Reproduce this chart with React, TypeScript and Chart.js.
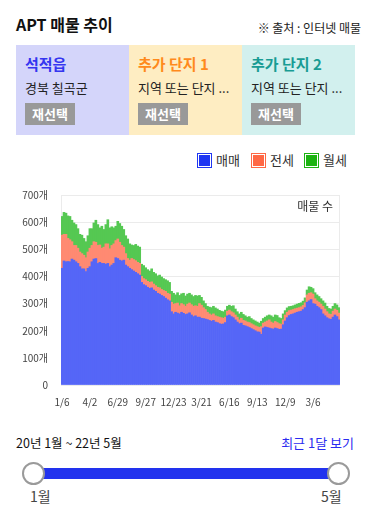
import React, { useEffect, useRef } from "react";
import { Chart, registerables } from "chart.js";

Chart.register(...registerables);

const FONT = "'Noto Sans CJK KR', 'Noto Sans', sans-serif";

// Category labels (M/D), ~6-day steps from 2020-01-06 to 2022-05-26
const DATES = [
  "1/6","1/12","1/18","1/25","1/31","2/6","2/12","2/19","2/25","3/2","3/8","3/14","3/21","3/27",
  "4/2","4/8","4/14","4/21","4/27","5/3","5/9","5/16","5/22","5/28","6/3","6/10","6/16","6/22",
  "6/29","7/5","7/12","7/18","7/25","7/31","8/6","8/13","8/19","8/26","9/1","9/8","9/14","9/21",
  "9/27","10/3","10/9","10/16","10/22","10/28","11/3","11/10","11/16","11/22","11/28","12/5","12/11","12/17",
  "12/23","12/29","1/4","1/11","1/17","1/23","1/29","2/5","2/11","2/17","2/23","3/2","3/8","3/14",
  "3/21","3/27","4/2","4/8","4/15","4/21","4/27","5/3","5/10","5/16","5/22","5/28","6/4","6/10",
  "6/16","6/22","6/29","7/5","7/11","7/18","7/24","7/30","8/6","8/12","8/18","8/25","8/31","9/6",
  "9/13","9/19","9/25","10/2","10/8","10/14","10/20","10/27","11/2","11/8","11/14","11/21","11/27","12/3",
  "12/9","12/15","12/21","12/28","1/3","1/9","1/15","1/22","1/28","2/3","2/9","2/16","2/22","2/28",
  "3/6","3/12","3/18","3/25","3/31","4/6","4/12","4/19","4/25","5/1","5/7","5/14","5/20","5/26",
];

// every 14th category carries a visible tick label
const TICK_EVERY = 14;

// 매매
const SALE = [
  430,457,454,455,454,464,460,454,448,436,
  428,428,418,430,436,454,464,466,448,452,
  448,448,445,448,436,442,448,469,466,460,
  457,460,442,436,430,425,420,415,410,405,
  378,370,366,360,356,358,350,345,338,335,
  330,326,320,314,310,270,262,268,265,262,
  268,264,260,262,266,258,252,255,250,250,
  246,245,243,241,238,235,238,232,230,226,
  224,225,230,255,258,252,248,240,232,226,
  228,220,218,215,212,208,204,200,196,195,
  187,210,214,212,210,208,206,210,208,205,
  206,222,236,248,256,260,262,265,268,270,
  272,278,285,305,310,315,300,298,290,285,
  278,262,255,248,244,242,250,258,252,240,
];

// 전세
const JEONSE = [
  122,98,101,85,81,64,54,60,56,54,
  56,50,51,60,68,60,64,60,66,64,
  56,60,75,72,66,72,72,63,72,66,
  57,48,42,30,30,41,42,43,42,43,
  22,22,22,22,22,22,22,21,22,23,
  22,22,25,24,25,35,36,32,37,30,
  32,32,30,36,36,38,38,37,40,50,
  48,40,35,27,24,23,24,23,22,24,
  24,21,20,17,18,18,18,18,18,14,
  18,18,18,17,18,18,18,18,19,17,
  28,18,18,24,30,24,22,24,22,21,
  18,18,22,20,18,16,16,16,15,15,
  16,15,18,27,28,25,35,20,20,20,
  20,28,25,22,18,18,22,22,23,25,
];

// 월세
const MONTHLY = [
  69,81,78,83,86,79,83,77,72,65,
  68,62,59,60,72,62,69,81,77,63,
  81,65,71,89,77,69,59,53,65,69,
  71,65,66,72,60,50,52,60,60,60,
  45,48,44,43,42,48,43,44,42,47,
  46,44,43,46,43,40,40,32,38,38,
  36,42,38,37,36,36,36,38,38,30,
  29,25,22,22,25,27,28,29,28,25,
  24,24,26,18,18,20,26,22,20,22,
  22,22,19,18,22,19,18,18,17,16,
  20,17,18,19,18,23,22,24,26,22,
  21,22,16,16,15,14,14,14,15,16,
  15,16,18,18,24,20,20,22,22,21,
  20,20,22,20,20,20,18,20,20,20,
];

const SERIES_NAMES = ["매매", "전세", "월세"];
const BAR_COLORS = ["#5566f7", "#ff8a72", "#55c852"];
const LEGEND_COLORS = ["#1f36f2", "#ff6845", "#1db412"];
const Y_MAX = 700;
const Y_STEP = 100;

const CARDS = [
  { title: "석적읍", sub: "경북 칠곡군", bg: "#d4d5fa", color: "#3535f0" },
  { title: "추가 단지 1", sub: "지역 또는 단지 ...", bg: "#feedc2", color: "#ff8a1c" },
  { title: "추가 단지 2", sub: "지역 또는 단지 ...", bg: "#d2f0ee", color: "#199c94" },
];

const framePlugin = {
  id: "frame",
  beforeDatasetsDraw(chart: any) {
    const { ctx, chartArea } = chart;
    ctx.save();
    ctx.strokeStyle = "#ebebeb";
    ctx.lineWidth = 1;
    ctx.beginPath();
    ctx.moveTo(Math.round(chartArea.right) - 0.5, chartArea.top);
    ctx.lineTo(Math.round(chartArea.right) - 0.5, chartArea.bottom);
    ctx.stroke();
    ctx.restore();
  },
  afterDraw(chart: any) {
    const { ctx, chartArea } = chart;
    ctx.save();
    ctx.font = `12px ${FONT}`;
    ctx.fillStyle = "#333";
    ctx.textAlign = "right";
    ctx.textBaseline = "top";
    ctx.fillText("매물 수", chartArea.right - 7, chartArea.top + 5);
    ctx.restore();
  },
};

const LEGEND_BOX_X = [197, 251, 304];

export default function App() {
  const ref = useRef<HTMLCanvasElement>(null);

  useEffect(() => {
    if (!ref.current) return;
    const series = [SALE, JEONSE, MONTHLY];
    const chart = new Chart(ref.current, {
      type: "bar",
      data: {
        labels: DATES,
        datasets: series.map((d, k) => ({
          label: SERIES_NAMES[k],
          data: d,
          backgroundColor: BAR_COLORS[k],
          borderWidth: 0,
          barPercentage: 1,
          categoryPercentage: 1,
        })),
      },
      options: {
        responsive: false,
        animation: false,
        layout: { padding: { top: 13, right: 10, left: 0, bottom: 0 } },
        plugins: { legend: { display: false }, tooltip: { enabled: false } },
        scales: {
          x: {
            stacked: true,
            grid: { display: false, drawTicks: false },
            border: { display: false },
            ticks: {
              autoSkip: false,
              maxRotation: 0,
              minRotation: 0,
              padding: 11,
              color: "#444",
              font: { family: FONT, size: 10 },
              callback: (_v: any, i: number) => (i % TICK_EVERY === 0 ? DATES[i] : ""),
            },
            afterFit: (s: any) => {
              s.height = 31;
            },
          },
          y: {
            stacked: true,
            min: 0,
            max: Y_MAX,
            grid: { color: "#ebebeb", drawTicks: false },
            border: { display: true, color: "#ebebeb" },
            ticks: {
              stepSize: Y_STEP,
              padding: 13,
              color: "#444",
              font: { family: FONT, size: 10 },
              callback: (v: any) => (v === 0 ? "0" : `${v}개`),
            },
            afterFit: (s: any) => {
              s.width = 61;
            },
          },
        },
      },
      plugins: [framePlugin],
    });
    return () => chart.destroy();
  }, []);

  return (
    <div
      style={{
        position: "absolute",
        left: 0,
        top: 0,
        width: 383,
        height: 507,
        background: "#fff",
        fontFamily: FONT,
        color: "#111",
      }}
    >
      <div style={{ position: "absolute", left: 16, top: 14, fontSize: 16, fontWeight: 700, lineHeight: "20px" }}>
        APT 매물 추이
      </div>
      <div style={{ position: "absolute", right: 22, top: 20, fontSize: 12, lineHeight: "16px", color: "#222" }}>
        ※ 출처 : 인터넷 매물
      </div>

      <div style={{ position: "absolute", left: 16, top: 45, display: "flex" }}>
        {CARDS.map((c, k) => (
          <div key={k} style={{ position: "relative", width: 113, height: 90, background: c.bg }}>
            <div style={{ position: "absolute", left: 9, top: 10, fontSize: 15, fontWeight: 700, lineHeight: "18px", color: c.color }}>
              {c.title}
            </div>
            <div style={{ position: "absolute", left: 9, top: 35, fontSize: 13, lineHeight: "16px", color: "#222", whiteSpace: "nowrap" }}>
              {c.sub}
            </div>
            <div
              style={{
                position: "absolute",
                left: 9,
                top: 58,
                width: 50,
                height: 22,
                background: "#999",
                color: "#fff",
                fontSize: 13,
                fontWeight: 700,
                lineHeight: "22px",
                textAlign: "center",
              }}
            >
              재선택
            </div>
          </div>
        ))}
      </div>

      {SERIES_NAMES.map((n, k) => (
        <React.Fragment key={k}>
          <div
            style={{
              position: "absolute",
              left: LEGEND_BOX_X[k],
              top: 153,
              width: 15,
              height: 15,
              boxSizing: "border-box",
              border: `1px solid ${LEGEND_COLORS[k]}`,
              boxShadow: "inset 0 0 0 1px #fff",
              background: LEGEND_COLORS[k],
            }}
          />
          <span
            style={{
              position: "absolute",
              left: LEGEND_BOX_X[k] + 19,
              top: 151,
              fontSize: 13,
              lineHeight: "18px",
              color: "#333",
              whiteSpace: "nowrap",
            }}
          >
            {n}
          </span>
        </React.Fragment>
      ))}

      <div style={{ position: "absolute", left: 0, top: 176, width: 350, height: 240 }}>
        <canvas ref={ref} width={350} height={240} />
      </div>

      <div style={{ position: "absolute", left: 16, top: 435, fontSize: 12.5, lineHeight: "16px", color: "#111", whiteSpace: "nowrap" }}>
        20년 1월 ~ 22년 5월
      </div>
      <div style={{ position: "absolute", right: 29, top: 435, fontSize: 13, lineHeight: "16px", color: "#2b2bf0", whiteSpace: "nowrap" }}>
        최근 1달 보기
      </div>

      <div style={{ position: "absolute", left: 33, top: 468, width: 305, height: 11, background: "#2233ee" }} />
      {[33, 338.5].map((cx, k) => (
        <div
          key={k}
          style={{
            position: "absolute",
            left: cx - 11.5,
            top: 462,
            width: 23,
            height: 23,
            boxSizing: "border-box",
            borderRadius: "50%",
            border: "2px solid #9a9a9a",
            background: "#fff",
          }}
        />
      ))}
      <div style={{ position: "absolute", left: 30, top: 487, fontSize: 14, lineHeight: "18px", color: "#444" }}>1월</div>
      <div style={{ position: "absolute", left: 321, top: 487, fontSize: 14, lineHeight: "18px", color: "#444" }}>5월</div>
    </div>
  );
}
